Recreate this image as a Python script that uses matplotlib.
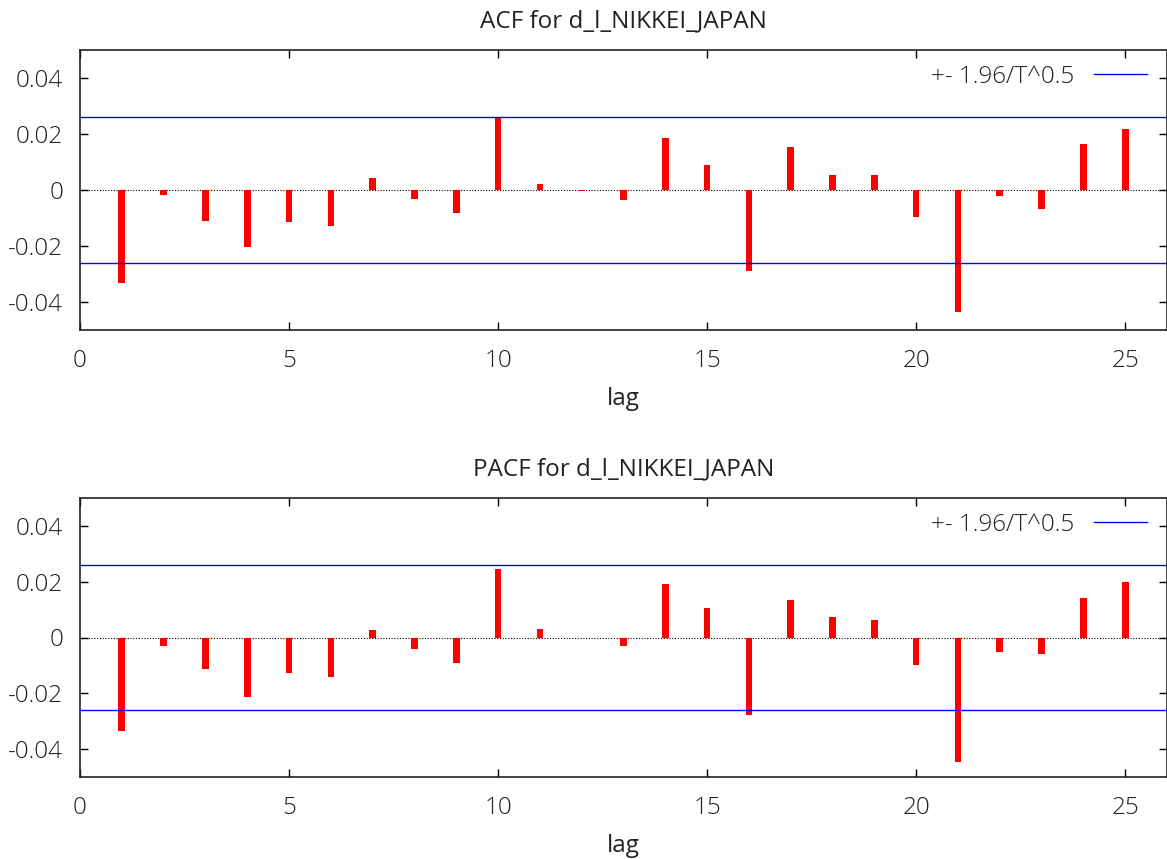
import matplotlib
matplotlib.use("Agg")
import matplotlib.pyplot as plt
import numpy as np

lags = list(range(1, 26))
acf = [-0.0333, -0.0018, -0.0109, -0.0204, -0.0113, -0.0128, 0.0042, -0.0032,
       -0.0081, 0.0259, 0.0020, -0.0002, -0.0035, 0.0187, 0.0088, -0.0288,
       0.0153, 0.0054, 0.0054, -0.0098, -0.0437, -0.0020, -0.0067, 0.0166, 0.0219]
pacf = [-0.0334, -0.0031, -0.0112, -0.0213, -0.0129, -0.0140, 0.0026, -0.0041,
        -0.0093, 0.0244, 0.0031, -0.0002, -0.0032, 0.0191, 0.0105, -0.0276,
        0.0134, 0.0073, 0.0063, -0.0100, -0.0445, -0.0051, -0.0060, 0.0140, 0.0199]
band = 0.0259
titles = ["ACF for d_l_NIKKEI_JAPAN", "PACF for d_l_NIKKEI_JAPAN"]
legend_label = "+- 1.96/T^0.5"
xticks = [0, 5, 10, 15, 20, 25]
yticks = [-0.04, -0.02, 0, 0.02, 0.04]
ytick_labels = ["-0.04", "-0.02", "0", "0.02", "0.04"]

plt.rcParams['font.family'] = ['Open Sans', 'DejaVu Sans']
plt.rcParams['font.weight'] = 'light'
FS = 17.5
TXT = '#222222'

W, H = 1167, 859
fig = plt.figure(figsize=(W / 100, H / 100), dpi=100)

boxes = [(50, 330), (498, 777)]
for (top, bot), vals, title in zip(boxes, [acf, pacf], titles):
    ax = fig.add_axes([80 / W, 1 - bot / H, 1087 / W, (bot - top) / H])
    ax.bar(lags, vals, width=0.16, color='#ff0000', zorder=3)
    ax.axhline(0, color='black', linestyle=(0, (1, 1.5)), linewidth=0.8, zorder=2)
    ax.axhline(band, color='#0000ff', linewidth=1.0, zorder=4, label=legend_label)
    ax.axhline(-band, color='#0000ff', linewidth=1.0, zorder=4)
    ax.set_xlim(0, 26)
    ax.set_ylim(-0.05, 0.05)
    ax.set_xticks(xticks)
    ax.set_yticks(yticks)
    ax.set_yticklabels(ytick_labels)
    ax.tick_params(direction='in', length=6, width=1, top=True, right=True,
                   labelsize=FS, colors='black', labelcolor=TXT)
    ax.tick_params(axis='x', pad=14)
    ax.tick_params(axis='y', pad=12)
    for s in ax.spines.values():
        s.set_linewidth(1.2)
        s.set_color(TXT)
    ax.set_xlabel("lag", fontsize=FS, color=TXT, labelpad=10)
    ax.set_title(title, fontsize=FS, color=TXT, pad=16)
    leg = ax.legend(loc='upper right', frameon=False, fontsize=FS,
                    handlelength=2.2, markerfirst=False,
                    bbox_to_anchor=(0.995, 1.0), borderaxespad=0.2)
    for t in leg.get_texts():
        t.set_color(TXT)

fig.savefig("out.png", dpi=100)
